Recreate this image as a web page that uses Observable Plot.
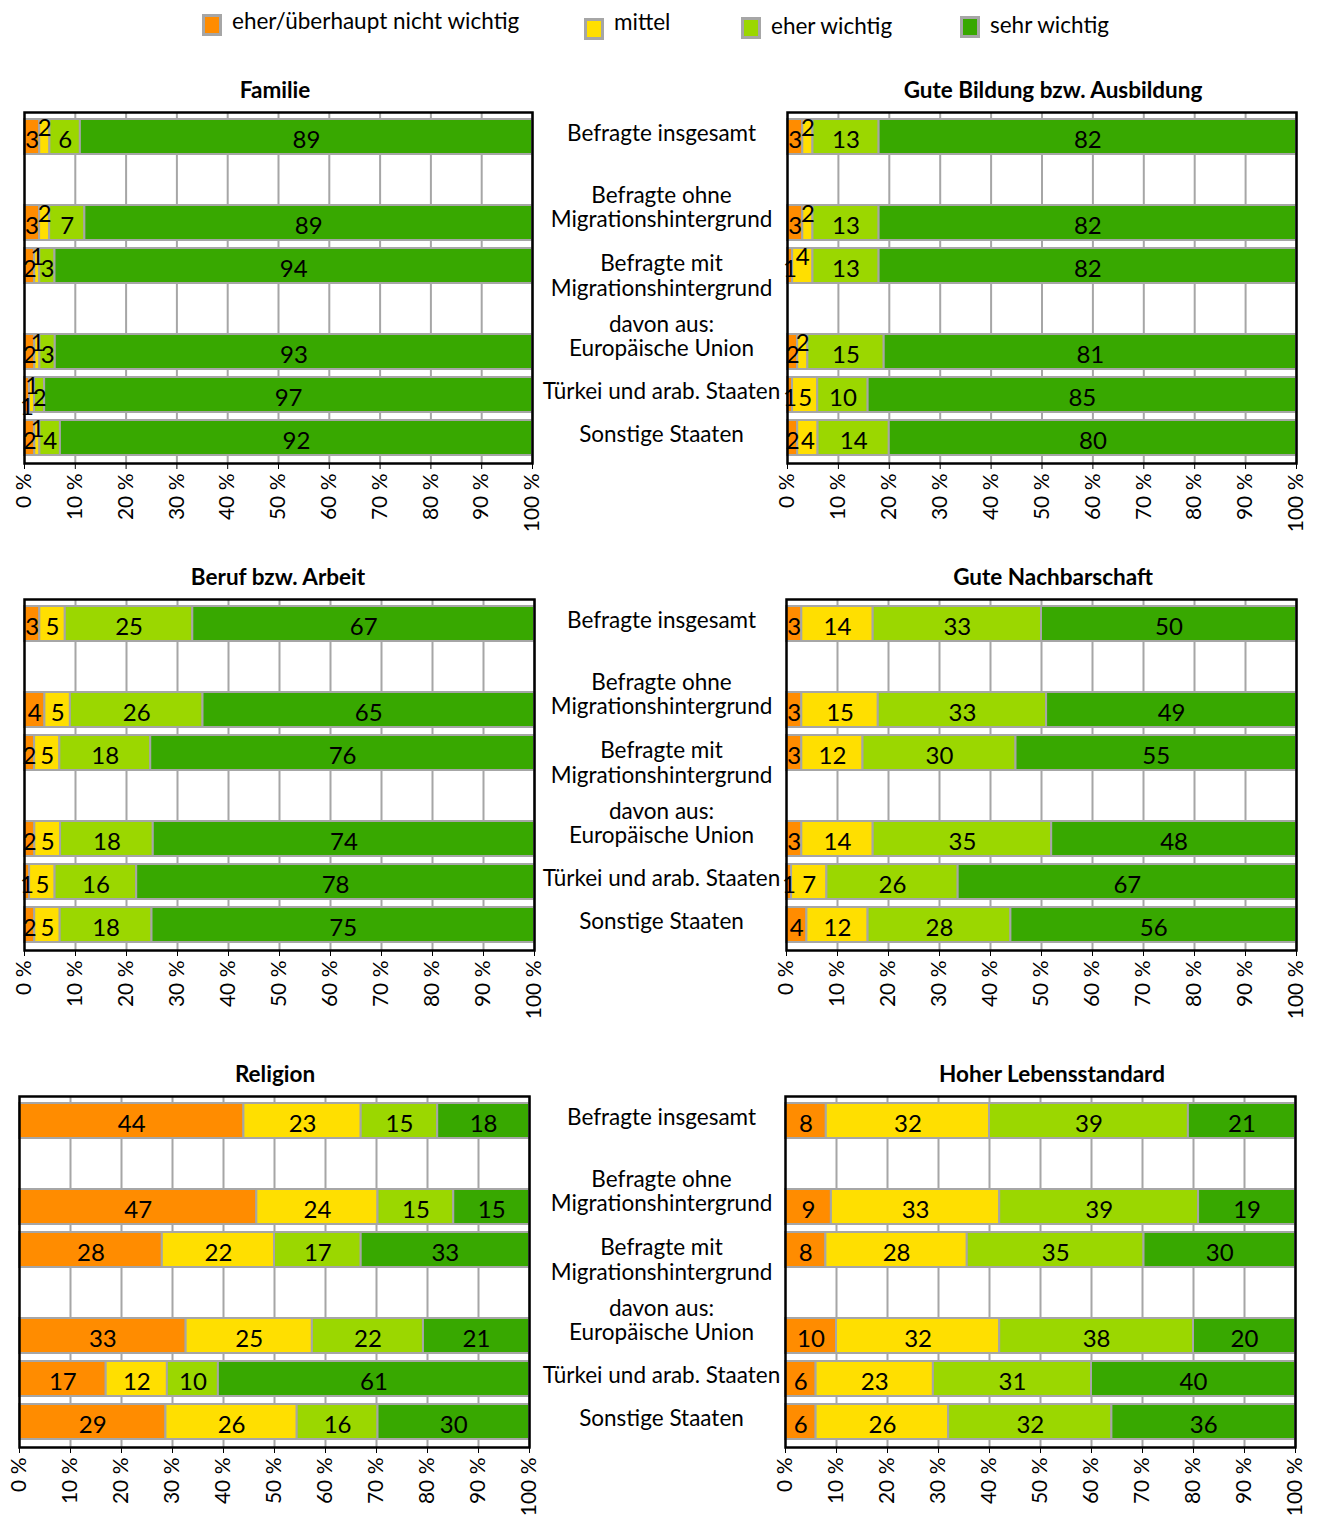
<!DOCTYPE html>
<html>
<head>
<meta charset="utf-8">
<script src="https://cdn.jsdelivr.net/npm/d3@7"></script>
<script src="https://cdn.jsdelivr.net/npm/@observablehq/plot@0.6"></script>
<style>
  body { margin: 0; background: #fff; font-family: Lato, "Noto Sans", sans-serif; color: #000; }
  #root { position: relative; width: 1319px; height: 1517px; overflow: hidden; background: #fff; }
  .title { position: absolute; font-weight: bold; font-size: 22.5px; white-space: nowrap; transform: translateX(-50%); line-height: 26px; }
  .leg { position: absolute; display: flex; align-items: center; font-size: 22.5px; white-space: nowrap; }
  .sw { box-sizing: border-box; width: 20px; height: 22px; border: 3px solid #a6a6a6; margin-right: 10px; }
  .panel { position: absolute; }
</style>
</head>
<body>
<div id="root"></div>
<script>
// Answer categories (stack order) and their colours
const levels = ["eher/überhaupt nicht wichtig", "mittel", "eher wichtig", "sehr wichtig"];
const levelColors = ["#ff8c00", "#ffdf00", "#9bd700", "#38a800"];

// Respondent groups, in row order
const groups = [
  "Befragte insgesamt",
  "Befragte ohne Migrationshintergrund",
  "Befragte mit Migrationshintergrund",
  "Europäische Union",
  "Türkei und arab. Staaten",
  "Sonstige Staaten"
];
const groupLabels = [
  "Befragte insgesamt",
  "Befragte ohne\nMigrationshintergrund",
  "Befragte mit\nMigrationshintergrund",
  "davon aus:\nEuropäische Union",
  "Türkei und arab. Staaten",
  "Sonstige Staaten"
];

// Axis ticks in percent
const tickPercents = [0, 10, 20, 30, 40, 50, 60, 70, 80, 90, 100];

// Shares per group: [nicht wichtig, mittel, eher wichtig, sehr wichtig]
const familie = [[3, 2, 6, 89], [3, 2, 7, 89], [2, 1, 3, 94], [2, 1, 3, 93], [1, 1, 2, 97], [2, 1, 4, 92]];
const bildung = [[3, 2, 13, 82], [3, 2, 13, 82], [1, 4, 13, 82], [2, 2, 15, 81], [1, 5, 10, 85], [2, 4, 14, 80]];
const beruf = [[3, 5, 25, 67], [4, 5, 26, 65], [2, 5, 18, 76], [2, 5, 18, 74], [1, 5, 16, 78], [2, 5, 18, 75]];
const nachbarschaft = [[3, 14, 33, 50], [3, 15, 33, 49], [3, 12, 30, 55], [3, 14, 35, 48], [1, 7, 26, 67], [4, 12, 28, 56]];
const religion = [[44, 23, 15, 18], [47, 24, 15, 15], [28, 22, 17, 33], [33, 25, 22, 21], [17, 12, 10, 61], [29, 26, 16, 30]];
const lebensstandard = [[8, 32, 39, 21], [9, 33, 39, 19], [8, 28, 35, 30], [10, 32, 38, 20], [6, 23, 31, 40], [6, 26, 32, 36]];

const topics = ["Familie", "Gute Bildung bzw. Ausbildung", "Beruf bzw. Arbeit", "Gute Nachbarschaft", "Religion", "Hoher Lebensstandard"];
const topicValues = [familie, bildung, beruf, nachbarschaft, religion, lebensstandard];

// Row slots: two empty slots separate the blocks of groups
const slots = [groups[0], "gap1", groups[1], groups[2], "gap2", groups[3], groups[4], groups[5]];

const root = document.getElementById("root");

// Legend
const legendPos = [[202, 11], [584, 15], [741, 14], [960, 13]];
const legendTextShift = [-4, -7, -2, -2];
levels.forEach((lv, i) => {
  const d = document.createElement("div");
  d.className = "leg";
  d.style.left = legendPos[i][0] + "px";
  d.style.top = legendPos[i][1] + "px";
  d.innerHTML = `<div class="sw" style="background:${levelColors[i]}"></div><span style="position:relative;top:${legendTextShift[i]}px">${lv}</span>`;
  root.appendChild(d);
});

// Panel geometry (plot frame in page pixels) and title centres
const layout = [
  {x0: 24, x1: 532, top: 112, side: "left", tx: 275},
  {x0: 787, x1: 1296, top: 112, side: "right", tx: 1053},
  {x0: 24, x1: 534, top: 599, side: "left", tx: 278},
  {x0: 786, x1: 1296, top: 599, side: "right", tx: 1053},
  {x0: 19, x1: 529, top: 1096, side: "left", tx: 275},
  {x0: 785, x1: 1295, top: 1096, side: "right", tx: 1052}
];
const frameH = 351, mTop = 4, mBottom = 82;
const labelCenterX = 661;
const fontMain = "Lato, 'Noto Sans', sans-serif";

// Build one record per segment; crowded labels of thin segments are
// marked to be lifted ("up") or lowered ("down") off the bar centre.
function rowsFor(values) {
  const data = [];
  values.forEach((vals, g) => {
    const total = d3.sum(vals);
    const centers = [];
    let cum = 0;
    vals.forEach(v => { centers.push((cum + v / 2) / total * 100); cum += v; });
    const shift = vals.map(() => 0);
    for (let k = 1; k < vals.length; k++) {
      if (shift[k - 1] === 0 && centers[k] - centers[k - 1] < 2.8) {
        shift[k] = -1;
        if (k + 1 < vals.length && centers[k + 1] - centers[k - 1] < 3.5) shift[k - 1] = 1;
      }
    }
    vals.forEach((v, k) => data.push({slot: groups[g], level: levels[k], value: v, shift: shift[k]}));
  });
  return data;
}

const topAligned = new Set(["Befragte mit Migrationshintergrund"]);

topics.forEach((topic, i) => {
  const L = layout[i];
  const svgLeft = L.side === "left" ? 0 : 776;
  const svgWidth = L.side === "left" ? 776 : 1319 - 776;
  const data = rowsFor(topicValues[i]);
  const stackOpts = {x: "value", y: "slot", z: "level", offset: "normalize"};
  const labelMark = (s, dy) => Plot.text(data, Plot.stackX({
    ...stackOpts, text: d => d.shift === s ? String(d.value) : "", dy, fontSize: 24, fill: "#000"
  }));

  const marks = [
    Plot.gridX(tickPercents.slice(1).map(t => t / 100), {stroke: "#a6a6a6", strokeOpacity: 1, strokeWidth: 2}),
    Plot.barX(data, Plot.stackX({...stackOpts, fill: "level", stroke: "#a6a6a6", strokeWidth: 2})),
    labelMark(0, 3),
    labelMark(-1, -9),
    labelMark(1, 12),
    Plot.frame({stroke: "#000", strokeWidth: 2.5}),
    Plot.axisX({ticks: tickPercents.map(t => t / 100), tickFormat: d => `${Math.round(d * 100)} %`, tickRotate: -90, tickSize: 6, tickPadding: 4, fontSize: 21, stroke: "#000", label: null})
  ];
  if (L.side === "left") {
    const labelOpts = {
      y: d => d, text: d => groupLabels[groups.indexOf(d)],
      frameAnchor: "right", dx: labelCenterX - L.x1, textAnchor: "middle",
      lineHeight: 1.08, fontSize: 22.5, fill: "#000"
    };
    marks.push(Plot.text(groups.filter(g => !topAligned.has(g)), {...labelOpts, lineAnchor: "bottom", dy: 4}));
    marks.push(Plot.text(groups.filter(g => topAligned.has(g)), {...labelOpts, lineAnchor: "top", dy: -12}));
  }

  const chart = Plot.plot({
    width: svgWidth,
    height: mTop + frameH + mBottom,
    marginLeft: L.x0 - svgLeft,
    marginRight: svgLeft + svgWidth - L.x1,
    marginTop: mTop,
    marginBottom: mBottom,
    style: {fontFamily: fontMain, fontSize: "21px", background: "transparent", overflow: "visible", color: "#000"},
    x: {domain: [0, 1], axis: null},
    y: {domain: slots, paddingInner: 0.18, paddingOuter: 0.09, axis: null},
    color: {domain: levels, range: levelColors},
    marks
  });
  const wrap = document.createElement("div");
  wrap.className = "panel";
  wrap.style.left = svgLeft + "px";
  wrap.style.top = (L.top - mTop) + "px";
  wrap.appendChild(chart);
  root.appendChild(wrap);

  const t = document.createElement("div");
  t.className = "title";
  t.textContent = topic;
  t.style.left = L.tx + "px";
  t.style.top = (L.top - 35) + "px";
  root.appendChild(t);
});
</script>
</body>
</html>
